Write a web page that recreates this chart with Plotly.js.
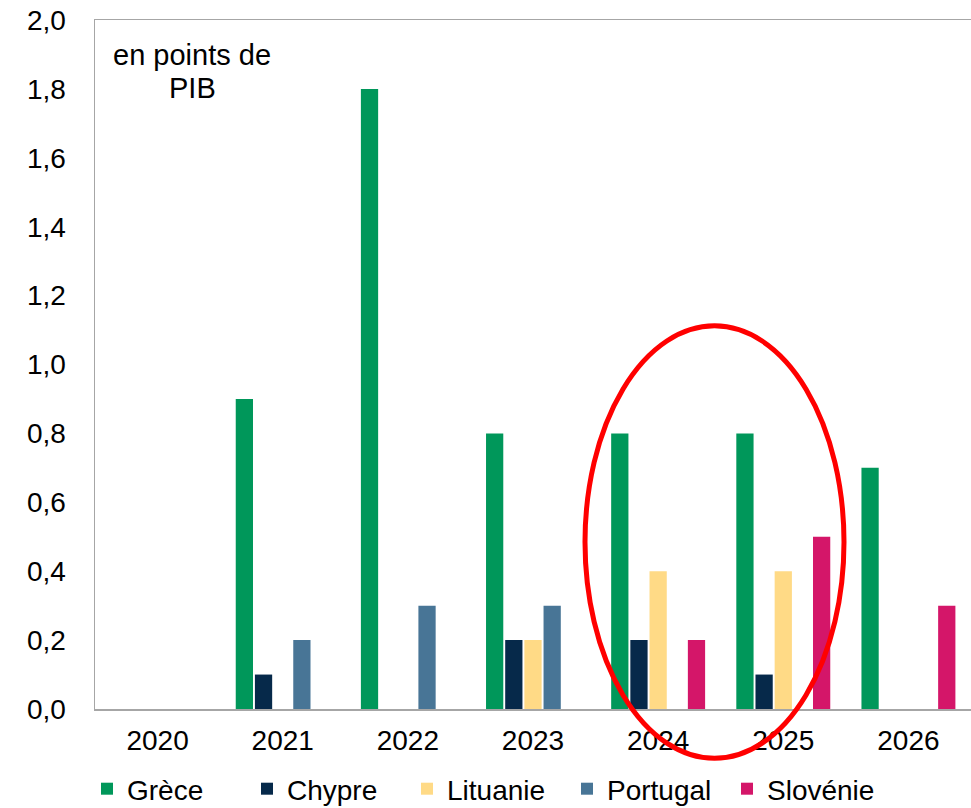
<!DOCTYPE html>
<html>
<head>
<meta charset="utf-8">
<script src="https://cdn.plot.ly/plotly-3.0.1.min.js"></script>
<style>html,body{margin:0;padding:0;overflow:hidden;background:#fff}</style>
</head>
<body>
<div id="chart" style="width:971px;height:808px"></div>
<script>
const years = ['2020', '2021', '2022', '2023', '2024', '2025', '2026'];
const grece    = [null, 0.9, 1.8, 0.8, 0.8, 0.8, 0.7];
const chypre   = [null, 0.1, null, 0.2, 0.2, 0.1, null];
const lituanie = [null, null, null, 0.2, 0.4, 0.4, null];
const portugal = [null, 0.2, 0.3, 0.3, null, null, null];
const slovenie = [null, null, null, null, 0.2, 0.5, 0.3];
const yTicks = [0, 0.2, 0.4, 0.6, 0.8, 1.0, 1.2, 1.4, 1.6, 1.8, 2.0];

const FONT = 'Arial, "Liberation Sans", sans-serif';
function bar(name, y, color) {
  return {type: 'bar', name: name, x: years, y: y,
          marker: {color: color, line: {width: 0}}, hoverinfo: 'x+y+name'};
}
const data = [
  bar('Grèce', grece, '#00975A'),
  bar('Chypre', chypre, '#06294A'),
  bar('Lituanie', lituanie, '#FFDA86'),
  bar('Portugal', portugal, '#487596'),
  bar('Slovénie', slovenie, '#D41669')
];
const layout = {
  width: 971, height: 808,
  margin: {l: 95, r: 0, t: 20, b: 99},
  paper_bgcolor: '#fff', plot_bgcolor: '#fff',
  font: {family: FONT, size: 28, color: '#000'},
  separators: ', ',
  barmode: 'group', bargap: 0.234, bargroupgap: 0.1,
  showlegend: true,
  legend: {orientation: 'h', xref: 'paper', yref: 'container',
           x: 0, xanchor: 'left', y: (808 - 789) / 808, yanchor: 'middle',
           indentation: -8,
           font: {family: FONT, size: 28, color: '#000'},
           entrywidth: 123, entrywidthmode: 'pixels', traceorder: 'normal'},
  xaxis: {type: 'category', showline: true, linecolor: '#A6A6A6', linewidth: 1.5,
          mirror: true, showgrid: false, zeroline: false, ticks: '',
          ticklabelstandoff: 6, tickfont: {family: FONT, size: 28, color: '#000'}, fixedrange: true},
  yaxis: {range: [0, 2.0], tickvals: yTicks, tickformat: '.1f', showline: true,
          linecolor: '#A6A6A6', linewidth: 1.5, showgrid: false, zeroline: false, ticks: '',
          ticklabelstandoff: 22, tickfont: {family: FONT, size: 28, color: '#000'}, fixedrange: true},
  annotations: [
    {text: 'en points de', xref: 'paper', yref: 'paper', x: (192 - 95) / 876, y: (708.7 - 55) / 688.7,
     xanchor: 'center', yanchor: 'middle', showarrow: false, font: {family: FONT, size: 29, color: '#000'}},
    {text: 'PIB', xref: 'paper', yref: 'paper', x: (192 - 95) / 876, y: (708.7 - 88) / 688.7,
     xanchor: 'center', yanchor: 'middle', showarrow: false, font: {family: FONT, size: 29, color: '#000'}}
  ],
  shapes: [
    {type: 'circle', xref: 'paper', yref: 'paper', layer: 'above',
     x0: (585 - 95) / 876, x1: (844 - 95) / 876,
     y0: (708.7 - 758) / 688.7, y1: (708.7 - 325.7) / 688.7,
     line: {color: '#FF0000', width: 5}, fillcolor: 'rgba(0,0,0,0)'}
  ]
};
Plotly.newPlot('chart', data, layout, {displayModeBar: false, staticPlot: true});
</script>
</body>
</html>
